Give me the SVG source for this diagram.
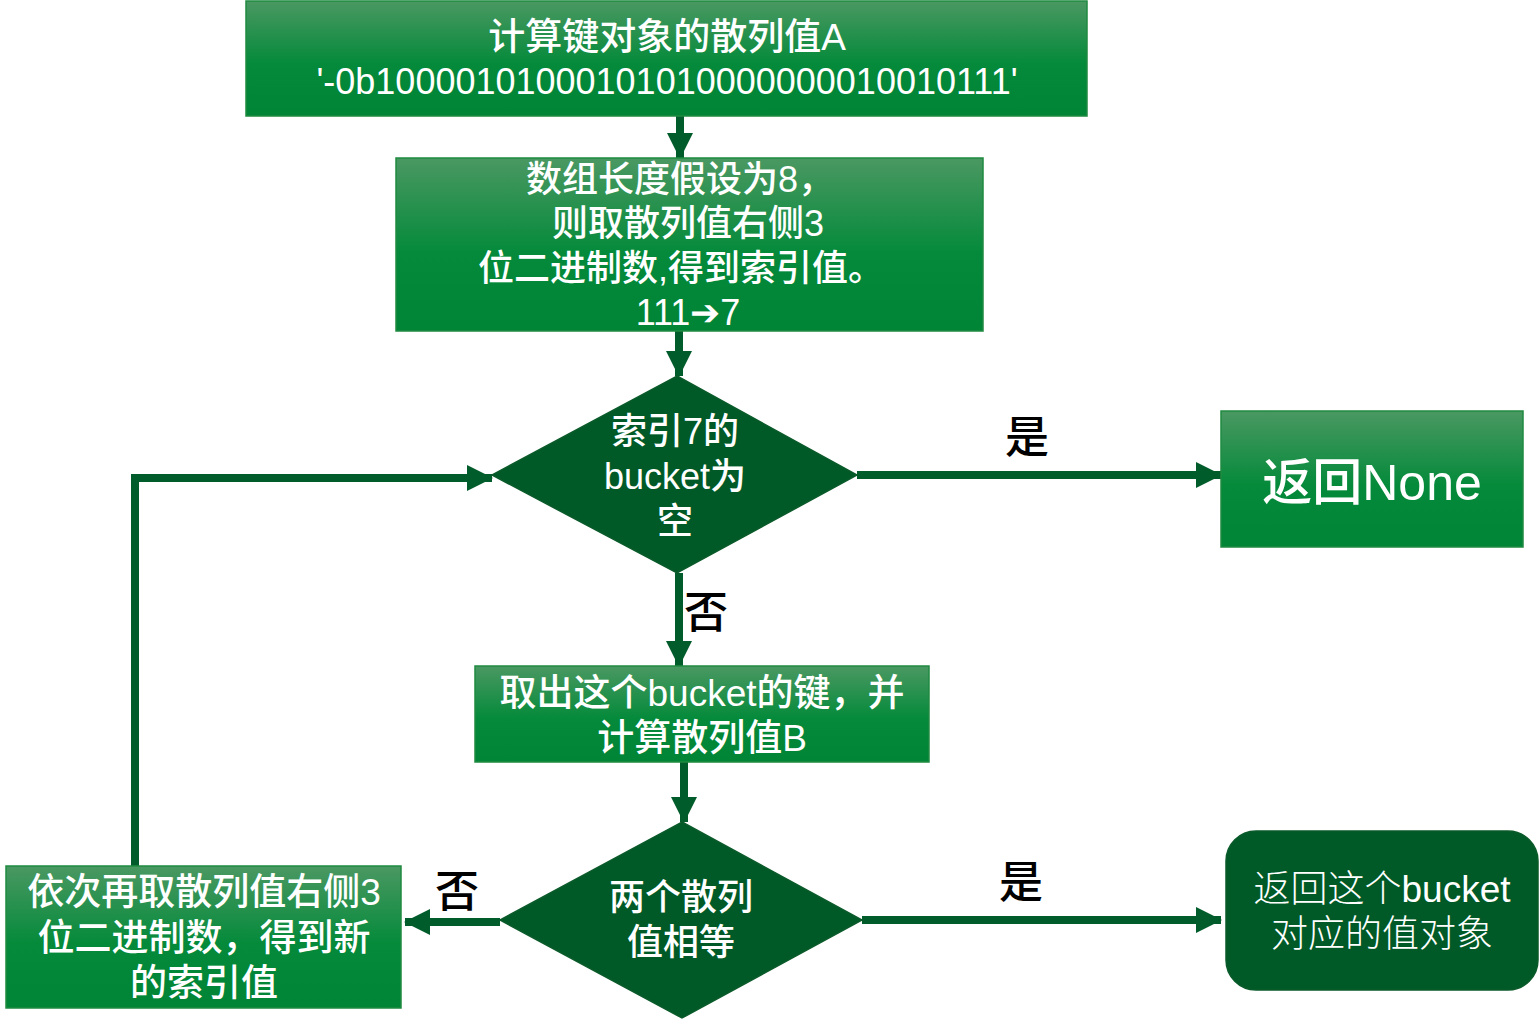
<svg xmlns="http://www.w3.org/2000/svg" width="1540" height="1028" viewBox="0 0 1540 1028">
<defs>
<linearGradient id="g" x1="0" y1="0" x2="0" y2="1">
<stop offset="0" stop-color="#4a9862"/>
<stop offset="0.55" stop-color="#048a3a"/>
<stop offset="1" stop-color="#008436"/>
</linearGradient>
<marker id="ah" markerUnits="userSpaceOnUse" markerWidth="26" markerHeight="26" refX="25" refY="13" orient="auto" viewBox="0 0 26 26">
<path d="M0,0 L26,13 L0,26 z" fill="#005c2a"/>
</marker>
<style>
.box{fill:url(#g);stroke:#1f8a40;stroke-width:1.5}
.dk{fill:#005a27;stroke:#0a5a2a;stroke-width:1.5}
.t{font-family:"Liberation Sans","Noto Sans CJK SC",sans-serif;fill:#ffffff;text-anchor:middle;font-weight:500}
.b{font-weight:500}
.l{font-family:"Liberation Sans","Noto Sans CJK SC",sans-serif;fill:#000000;font-size:44px;font-weight:500;text-anchor:middle}
.c{fill:none;stroke:#005c2a;stroke-width:8}
</style>
</defs>
<rect width="1540" height="1028" fill="#ffffff"/>
<g id="connectors">
<line class="c" x1="680" y1="116" x2="680" y2="158" marker-end="url(#ah)"/>
<line class="c" x1="679" y1="331" x2="679" y2="376" marker-end="url(#ah)"/>
<line class="c" x1="857" y1="475" x2="1221" y2="475" marker-end="url(#ah)"/>
<line class="c" x1="679" y1="573" x2="679" y2="666" marker-end="url(#ah)"/>
<line class="c" x1="684" y1="762" x2="684" y2="822" marker-end="url(#ah)"/>
<line class="c" x1="862" y1="920" x2="1221" y2="920" marker-end="url(#ah)"/>
<line class="c" x1="500" y1="922" x2="405" y2="922" marker-end="url(#ah)"/>
<polyline class="c" points="135,866 135,478 492,478" marker-end="url(#ah)"/>
<text class="l" x="1027" y="453">是</text>
<text class="l" x="706" y="628">否</text>
<text class="l" x="1021" y="898">是</text>
<text class="l" x="457" y="907">否</text>
</g>
<g id="node-hashA">
<rect class="box" x="246" y="1" width="841" height="115"/>
<text class="t b" x="667" y="50" font-size="37">计算键对象的散列值A</text>
<text class="t b" x="667" y="94" font-size="36">'-0b10000101000101010000000010010111'</text>
</g>
<g id="node-index">
<rect class="box" x="396" y="158" width="587" height="173"/>
<text class="t b" x="680" y="192" font-size="36">数组长度假设为8，</text>
<text class="t b" x="688" y="236" font-size="36">则取散列值右侧3</text>
<text class="t b" x="681" y="281" font-size="36">位二进制数,得到索引值。</text>
<text class="t b" x="688" y="325" font-size="36">111➔7</text>
</g>
<g id="node-empty">
<polygon class="dk" points="677,376 857,475 677,573 492,475"/>
<text class="t" x="675" y="444" font-size="36">索引7的</text>
<text class="t" x="675" y="489" font-size="36">bucket为</text>
<text class="t" x="675" y="534" font-size="36">空</text>
</g>
<g id="node-none">
<rect class="box" x="1221" y="411" width="302" height="136"/>
<text class="t" x="1372" y="500" font-size="50">返回None</text>
</g>
<g id="node-hashB">
<rect class="box" x="475" y="666" width="454" height="96"/>
<text class="t b" x="702" y="706" font-size="37">取出这个bucket的键，并</text>
<text class="t b" x="702" y="751" font-size="37">计算散列值B</text>
</g>
<g id="node-equal">
<polygon class="dk" points="682,822 862,920 682,1018 500,920"/>
<text class="t" x="681" y="910" font-size="36">两个散列</text>
<text class="t" x="681" y="955" font-size="36">值相等</text>
</g>
<g id="node-next">
<rect class="box" x="6" y="866" width="395" height="142"/>
<text class="t b" x="204" y="905" font-size="37">依次再取散列值右侧3</text>
<text class="t b" x="204" y="951" font-size="37">位二进制数，得到新</text>
<text class="t b" x="204" y="996" font-size="37">的索引值</text>
</g>
<g id="node-value">
<rect class="dk" x="1226" y="831" width="312" height="159" rx="30" ry="30"/>
<text class="t" x="1382" y="902" font-size="37" style="font-weight:300">返回这个bucket</text>
<text class="t" x="1382" y="947" font-size="37" style="font-weight:300">对应的值对象</text>
</g>
</svg>
